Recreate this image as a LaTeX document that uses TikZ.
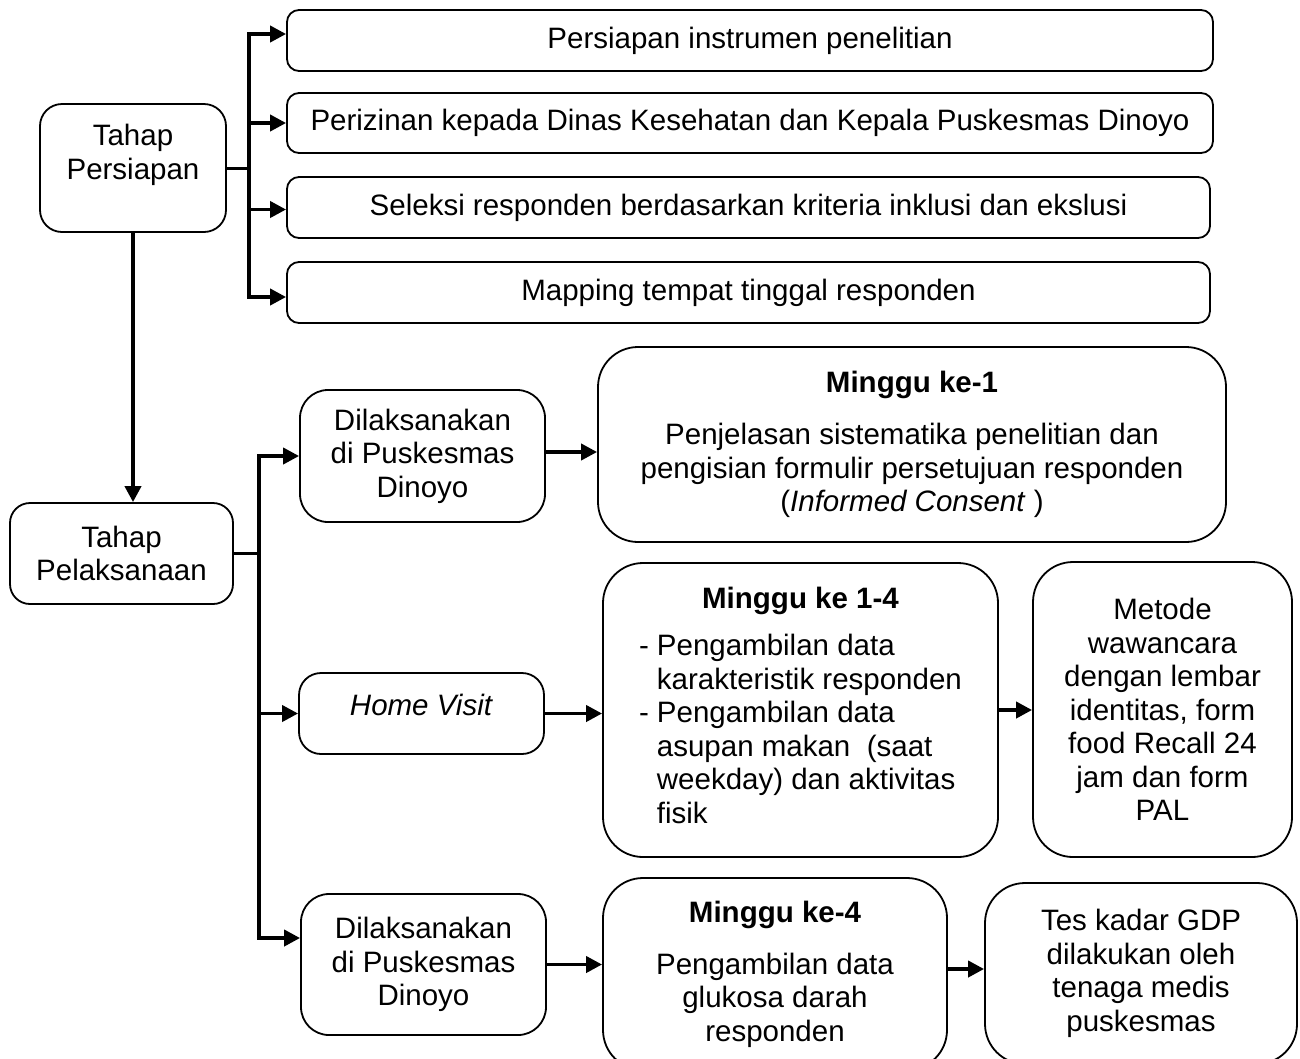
\documentclass[tikz,border=0pt]{standalone}
\usepackage{fontspec}
\setmainfont{Liberation Sans}
\usetikzlibrary{arrows.meta, positioning}
\tikzset{->,>={Triangle[length=16pt,width=16pt]},
every node/.style={font=\fontsize{29.5}{33.5}\selectfont, align=center},
box/.style={draw, line width=1.8pt, rounded corners=#1, inner sep=0pt},
box/.default=12pt,
link/.style={line width=3.8pt},
stub/.style={-, line width=3pt},
}

\begin{document}
\begin{tikzpicture}[x=1pt, y=-1pt]
    \useasboundingbox (0,0) rectangle (1300,1058);
    \node[box=22pt, minimum width=186pt, minimum height=128pt] (persiapan) at (133,168) {};
    \node (persiapanText) at (133,155) {Tahap\\Persiapan};
    \node[box, minimum width=926pt, minimum height=61pt] (instrumen) at (750,40.5) {Persiapan instrumen penelitian};
    \node[box, minimum width=926pt, minimum height=60pt] (perizinan) at (750,123) {Perizinan kepada Dinas Kesehatan dan Kepala Puskesmas Dinoyo};
    \node[box, minimum width=923pt, minimum height=61pt] (seleksi) at (748.5,207.5) {Seleksi responden berdasarkan kriteria inklusi dan ekslusi};
    \node[box, minimum width=923pt, minimum height=61pt] (mapping) at (748.5,292.5) {Mapping tempat tinggal responden};

    \node[box=20pt, minimum width=223pt, minimum height=101pt] (pelaksanaan) at (121.5,553.5) {Tahap\\Pelaksanaan};
    \node[box=28pt, minimum width=245pt, minimum height=132pt] (puskesmasA) at (422.5,456) {Dilaksanakan\\di Puskesmas\\Dinoyo};
    \node[box=22pt, minimum width=245pt, minimum height=81pt] (homevisit) at (421.5,713.5) {};
    \node (homevisitText) at (421.5,705) {\textit{Home Visit}};
    \node[box=28pt, minimum width=245pt, minimum height=141pt] (puskesmasB) at (423.5,964.5) {Dilaksanakan\\di Puskesmas\\Dinoyo};

    \node[box=40pt, minimum width=628pt, minimum height=195pt] (mingguA) at (912,444.5) {\textbf{Minggu ke-1}\\[18.5pt]Penjelasan sistematika penelitian dan\\pengisian formulir persetujuan responden\\(\textit{Informed Consent} )};
    \node[box=40pt, minimum width=395pt, minimum height=294pt] (mingguB) at (800.5,710) {\textbf{Minggu ke 1-4}\\[16.5pt]\begin{tabular}{@{}l@{\hspace{8pt}}l@{}}
        - & Pengambilan data\\
          & karakteristik responden\\
        - & Pengambilan data\\
          & asupan makan\ \ (saat\\
          & weekday) dan aktivitas\\
          & fisik
    \end{tabular}};
    \node[box=40pt, minimum width=259pt, minimum height=295pt] (metode) at (1162.5,709.5) {Metode\\wawancara\\dengan lembar\\identitas, form\\food Recall 24\\jam dan form\\PAL};
    \node[box=40pt, minimum width=344pt, minimum height=192pt] (mingguC) at (775,974) {\textbf{Minggu ke-4}\\[18.5pt]Pengambilan data\\glukosa darah\\responden};
    \node[box=40pt, minimum width=312pt, minimum height=181pt] (tesGDP) at (1141,973.5) {Tes kadar GDP\\dilakukan oleh\\tenaga medis\\puskesmas};

    \coordinate (siapTop) at (249,34);
    \coordinate (siapBot) at (249,297);
    \draw[stub] (persiapan.east) -- (persiapan.east -| siapTop);
    \draw[link, <->] (siapTop -| instrumen.west) -- (siapTop) -- (siapBot) -- (siapBot -| mapping.west);
    \draw[link] (siapTop |- perizinan.west) -- (perizinan.west);
    \draw[link] ([yshift=-2pt]siapTop |- seleksi.west) -- ([yshift=-2pt]seleksi.west);
    \draw[link] (persiapan.south) -- (persiapan.south |- pelaksanaan.north);

    \coordinate (laksTop) at (259,456);
    \coordinate (laksBot) at (259,938);
    \draw[stub] (pelaksanaan.east) -- (pelaksanaan.east -| laksTop);
    \draw[link, <->] (laksTop -| puskesmasA.west) -- (laksTop) -- (laksBot) -- (laksBot -| puskesmasB.west);
    \draw[link] (laksTop |- homevisit.west) -- (homevisit.west);

    \draw[link] ([yshift=4pt]puskesmasA.east) -- ([yshift=4pt]puskesmasA.east -| mingguA.west);
    \draw[link] (homevisit.east) -- (homevisit.east -| mingguB.west);
    \draw[link] (mingguB.east) -- (mingguB.east -| metode.west);
    \draw[link] (puskesmasB.east) -- (puskesmasB.east -| mingguC.west);
    \draw[link] ([yshift=5pt]mingguC.east) -- ([yshift=5pt]mingguC.east -| tesGDP.west);
\end{tikzpicture}
\end{document}
